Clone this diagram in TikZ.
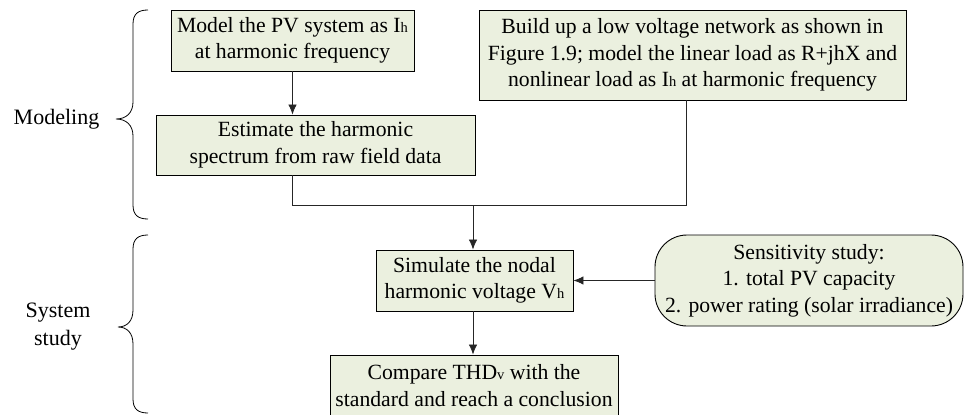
\documentclass[tikz,border=0pt]{standalone}
\usepackage{fontspec}
\setmainfont{Liberation Serif}
\usetikzlibrary{arrows.meta}
\definecolor{boxfill}{RGB}{235,240,223}
\newcommand{\lowsub}[1]{{\fontsize{14.5}{14.5}\selectfont #1}}
\tikzset{
  stepbox/.style={draw=black, line width=0.9pt, fill=boxfill, align=center,
    inner sep=0pt, font=\fontsize{21.7}{26.5}\selectfont},
  roundbox/.style={stepbox, rounded corners=32pt},
  flow/.style={line width=0.8pt, draw=black!85},
  flowarrow/.style={flow, -{Latex[length=10pt,width=8.5pt]}},
  bracepath/.style={line width=0.8pt},
  sidelabel/.style={align=center, font=\fontsize{22}{28}\selectfont}
}
\begin{document}
\begin{tikzpicture}[x=1pt, y=-1pt]
\useasboundingbox (0,0) rectangle (964,415);
\clip (0,0) rectangle (964,415);

% process boxes
\node[stepbox, minimum width=243pt, minimum height=61pt] (A) at (292.5,40.5)
  {Model the PV system as I\lowsub{h}\\at harmonic frequency};
\node[stepbox, minimum width=319pt, minimum height=60pt] (B) at (315.5,145)
  {Estimate the harmonic\\spectrum from raw field data};
\node[stepbox, minimum width=427pt, minimum height=90pt] (C) at (692.5,55)
  {Build up a low voltage network as shown in\\Figure 1.9; model the linear load as R+jhX and\\nonlinear load as I\lowsub{h} at harmonic frequency};
\node[stepbox, minimum width=197pt, minimum height=61pt] (D) at (474.5,280.5)
  {Simulate the nodal\\harmonic voltage V\lowsub{h}};
\node[stepbox, minimum width=288pt, minimum height=61pt] (E) at (474,385.5)
  {Compare THD\lowsub{v} with the\\standard and reach a conclusion};
\node[roundbox, minimum width=308pt, minimum height=91pt] (F) at (809,280.5)
  {Sensitivity study:\\1. total PV capacity\\2. power rating (solar irradiance)};

% connectors
\coordinate (J) at (473,205);
\draw[flowarrow] (A.south -| A) -- (A |- B.north);
\draw[flow] (A |- B.south) |- (J);
\draw[flow] ([xshift=-6.5pt]C.south) |- (J);
\draw[flowarrow] (J) -- (J |- D.north);
\draw[flowarrow] (J |- D.south) -- (J |- E.north);
\draw[flowarrow] (F.west) -- (F.west -| D.east);

% braces and stage labels
\draw[bracepath] (148,10) .. controls (138,10) and (133,14) .. (133,24)
  -- (133,102) .. controls (133,113) and (126,119) .. (116,119)
  .. controls (126,119) and (133,125) .. (133,136)
  -- (133,205) .. controls (133,215) and (138,219) .. (148,219);
\node[sidelabel] (model) at (56.5,119) {Modeling};

\draw[bracepath] (148,235) .. controls (138,235) and (133,239) .. (133,249)
  -- (133,310) .. controls (133,321) and (127,327) .. (118,327)
  .. controls (127,327) and (133,333) .. (133,344)
  -- (133,399) .. controls (133,409) and (138,413) .. (148,413);
\node[sidelabel] (sys) at (58,327) {System\\study};
\end{tikzpicture}
\end{document}
